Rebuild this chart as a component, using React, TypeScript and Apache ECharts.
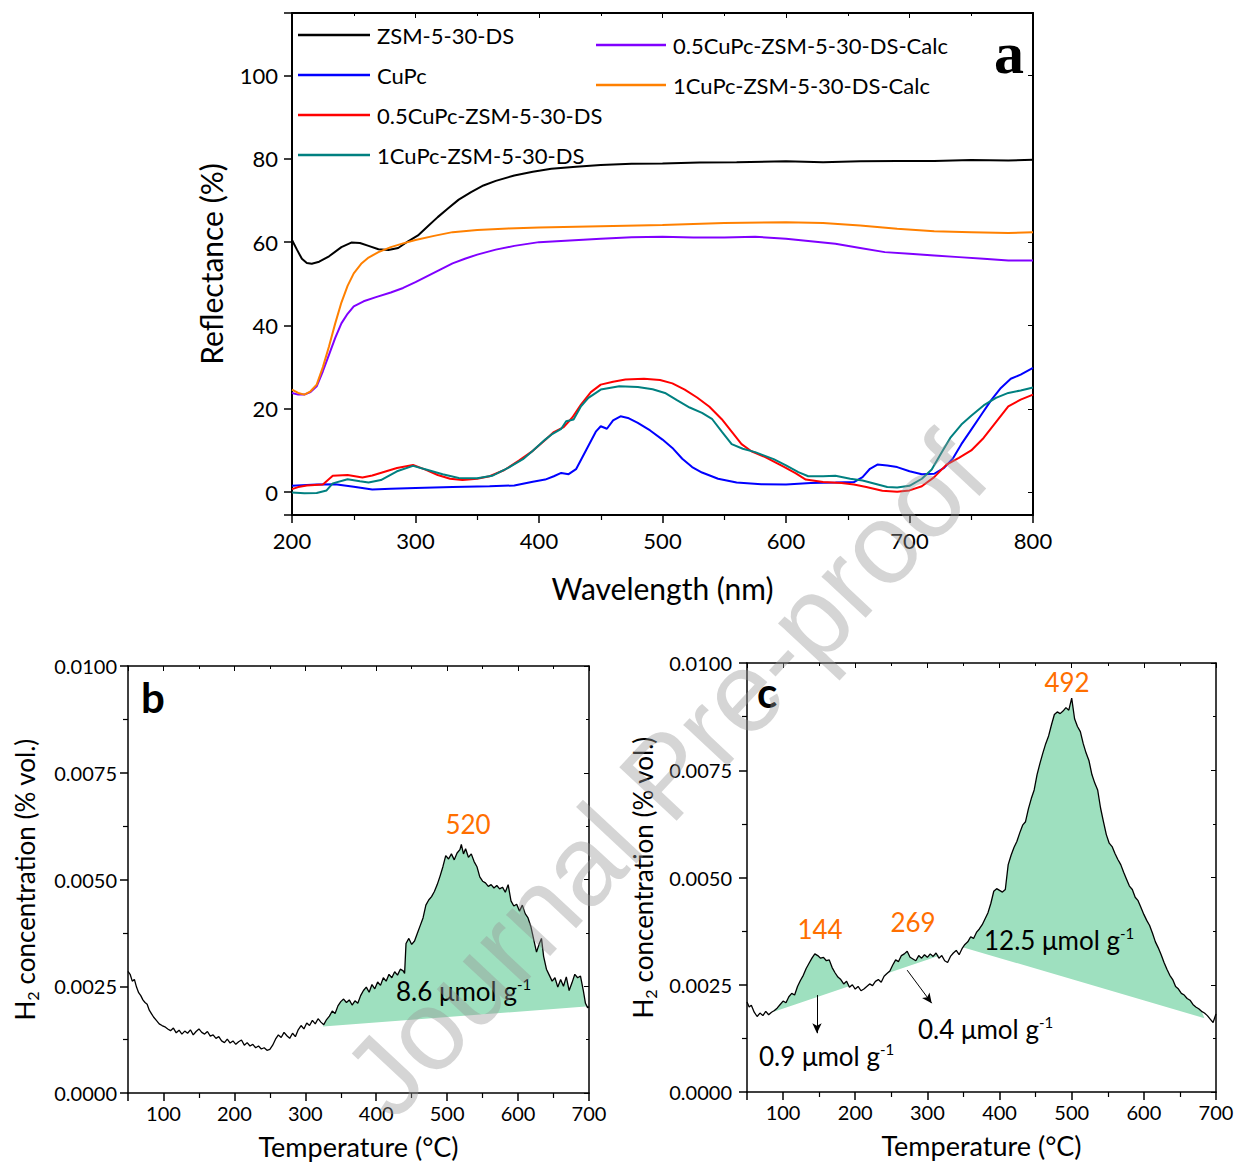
import React, { useEffect, useRef } from "react";
import * as echarts from "echarts";

const FONT = "Lato, 'Open Sans', sans-serif";
const GREEN = "#9ee0bf";
const ORANGE = "#ff6f00";

// ---------- Panel a : reflectance (wavelength nm, %) ----------
const seriesNamesA = [
  "ZSM-5-30-DS",
  "CuPc",
  "0.5CuPc-ZSM-5-30-DS",
  "1CuPc-ZSM-5-30-DS",
  "0.5CuPc-ZSM-5-30-DS-Calc",
  "1CuPc-ZSM-5-30-DS-Calc",
];
const seriesColorsA = ["#000000", "#0000ff", "#ff0000", "#008080", "#8000ff", "#ff8000"];

const zsm = [[200,60.5],[204,58.2],[208,56.0],[212,55.0],[216,54.8],[222,55.3],[230,56.6],[240,58.8],[248,59.9],[255,59.8],[262,59.1],[270,58.3],[278,58.1],[286,58.6],[294,60.2],[302,61.6],[310,63.8],[318,66.0],[326,68.0],[335,70.2],[345,72.0],[355,73.6],[365,74.7],[380,76.0],[395,76.9],[410,77.6],[430,78.1],[450,78.5],[475,78.8],[500,78.9],[530,79.1],[560,79.2],[600,79.4],[630,79.2],[660,79.4],[690,79.5],[720,79.5],[750,79.7],[780,79.6],[800,79.8]];
const cupc = [[200,1.5],[220,1.8],[235,1.9],[250,1.3],[265,0.6],[280,0.8],[300,1.0],[330,1.2],[360,1.4],[380,1.6],[395,2.5],[405,3.0],[412,3.8],[418,4.6],[424,4.3],[430,5.5],[438,10],[446,14.5],[450,15.8],[455,15.2],[460,17.2],[466,18.2],[472,17.8],[480,16.6],[490,14.8],[500,12.6],[508,10.6],[516,8.0],[524,6.0],[532,4.7],[545,3.2],[560,2.3],[580,1.9],[600,1.8],[620,2.2],[640,2.3],[655,2.4],[662,3.6],[668,5.6],[674,6.6],[682,6.4],[690,6.0],[700,5.0],[710,4.3],[720,4.4],[728,5.8],[735,8.0],[742,11.5],[750,15.0],[758,18.5],[766,22.0],[774,25.0],[782,27.2],[790,28.2],[800,29.8]];
const cu05 = [[200,0.7],[205,1.2],[212,1.6],[225,1.8],[233,3.9],[245,4.1],[257,3.5],[265,4.0],[275,4.9],[285,5.8],[298,6.5],[308,5.4],[318,4.1],[328,3.2],[338,2.9],[350,3.2],[360,3.8],[372,5.3],[384,7.6],[395,9.9],[405,12.5],[412,14.4],[420,15.6],[427,17.9],[434,21.0],[442,24.0],[450,25.8],[460,26.5],[470,27.0],[485,27.2],[498,26.9],[508,26.1],[518,24.6],[528,22.7],[538,20.5],[548,17.5],[556,14.5],[564,11.5],[572,9.8],[584,8.3],[598,6.1],[608,4.5],[616,3.0],[630,2.4],[645,2.2],[655,1.8],[665,1.2],[678,0.3],[690,0.1],[700,0.4],[710,1.4],[720,3.6],[730,6.6],[740,8.2],[750,10.0],[760,13.0],[770,16.8],[780,20.6],[790,22.2],[800,23.4]];
const cu1 = [[200,-0.1],[210,-0.3],[220,-0.2],[228,0.4],[233,2.1],[245,3.1],[255,2.6],[262,2.3],[272,2.9],[285,5.0],[298,6.3],[310,5.3],[322,4.3],[335,3.4],[350,3.3],[362,3.9],[375,5.8],[387,7.9],[395,9.9],[405,12.6],[411,14.0],[418,15.2],[422,17.0],[428,17.4],[434,20.6],[440,22.6],[450,24.6],[465,25.4],[480,25.2],[492,24.7],[502,23.8],[512,22.0],[522,20.3],[532,19.0],[540,17.6],[548,14.5],[556,11.5],[565,10.4],[575,9.6],[590,7.9],[600,6.4],[610,4.8],[618,3.8],[630,3.8],[640,3.9],[652,3.2],[662,2.8],[672,2.0],[682,1.2],[690,1.1],[700,1.5],[710,3.2],[718,5.4],[726,9.5],[733,13.0],[742,16.2],[750,18.3],[760,20.8],[770,22.6],[780,23.8],[790,24.4],[800,25.1]];
const cu05Calc = [[200,23.8],[205,23.4],[210,23.4],[215,24.0],[220,25.4],[225,29.0],[230,33.0],[235,37.0],[240,40.5],[245,42.8],[250,44.6],[258,45.8],[268,46.8],[280,47.9],[290,49.0],[300,50.4],[310,51.9],[320,53.4],[330,54.9],[340,56.0],[350,57.0],[365,58.2],[380,59.1],[400,60.0],[425,60.4],[450,60.8],[475,61.2],[500,61.3],[525,61.1],[550,61.1],[575,61.3],[600,60.8],[620,60.2],[640,59.6],[660,58.6],[680,57.6],[700,57.2],[720,56.8],[740,56.4],[760,56.0],[780,55.6],[800,55.6]];
const cu1Calc = [[200,24.6],[205,23.8],[210,23.4],[215,24.2],[220,25.8],[225,30],[230,35],[235,40.5],[240,45.5],[245,49.5],[250,52.5],[256,54.8],[262,56.3],[270,57.6],[280,58.8],[290,59.7],[300,60.5],[315,61.5],[330,62.4],[350,62.9],[375,63.3],[400,63.5],[450,63.8],[500,64.1],[550,64.6],[600,64.8],[630,64.6],[660,64.0],[690,63.2],[720,62.6],[750,62.4],[780,62.2],[800,62.4]];
const seriesDataA = [zsm, cupc, cu05, cu1, cu05Calc, cu1Calc];

// ---------- Panel b : H2-TPR (°C, ×1e-3 % vol.) ----------
const tprB = [[50,2.85],[53,2.78],[56,2.62],[59,2.66],[62,2.48],[65,2.35],[68,2.28],[71,2.18],[74,2.12],[77,2.08],[80,1.94],[83,1.86],[86,1.78],[90,1.70],[94,1.62],[98,1.58],[102,1.55],[106,1.50],[110,1.46],[114,1.52],[118,1.41],[122,1.47],[126,1.38],[130,1.45],[134,1.40],[138,1.48],[142,1.36],[146,1.44],[150,1.50],[154,1.42],[158,1.38],[162,1.44],[166,1.33],[170,1.36],[174,1.28],[178,1.32],[182,1.22],[186,1.18],[190,1.26],[194,1.17],[198,1.22],[202,1.14],[206,1.20],[210,1.24],[214,1.12],[218,1.18],[222,1.10],[226,1.14],[230,1.06],[234,1.10],[238,1.03],[242,1.06],[246,1.00],[250,1.02],[254,1.12],[258,1.26],[262,1.36],[266,1.30],[270,1.42],[274,1.34],[278,1.28],[282,1.40],[286,1.32],[290,1.48],[294,1.58],[298,1.50],[302,1.64],[306,1.58],[310,1.70],[314,1.62],[318,1.74],[322,1.66],[326,1.60],[330,1.72],[334,1.80],[338,1.92],[342,1.86],[346,2.04],[350,2.14],[354,2.20],[358,2.12],[362,2.18],[366,2.06],[370,2.16],[374,2.10],[378,2.28],[382,2.40],[386,2.48],[390,2.36],[394,2.54],[398,2.44],[402,2.60],[406,2.52],[410,2.70],[414,2.62],[418,2.78],[422,2.70],[426,2.84],[430,2.76],[434,2.90],[438,2.86],[440,2.80],[442,3.50],[446,3.62],[450,3.48],[454,3.56],[458,3.74],[462,3.92],[466,4.10],[470,4.40],[474,4.52],[478,4.60],[482,4.72],[486,4.88],[490,5.08],[494,5.30],[498,5.56],[502,5.48],[506,5.60],[510,5.46],[514,5.62],[518,5.70],[520,5.82],[523,5.60],[526,5.72],[530,5.52],[534,5.60],[538,5.42],[542,5.30],[546,5.06],[550,4.96],[554,4.92],[558,4.84],[562,4.88],[566,4.80],[570,4.86],[574,4.78],[578,4.82],[582,4.70],[586,4.88],[590,4.50],[594,4.38],[598,4.42],[602,4.26],[606,4.40],[610,4.20],[614,4.10],[618,3.90],[622,3.60],[626,3.30],[630,3.50],[633,3.62],[636,3.20],[640,2.90],[644,2.76],[648,2.62],[652,2.70],[656,2.48],[660,2.66],[664,2.50],[668,2.72],[672,2.40],[676,2.58],[680,2.78],[684,2.70],[688,2.74],[692,2.40],[695,2.10],[698,2.00],[700,2.02]];
const baseB = [[325,1.56],[700,2.03]];

// ---------- Panel c : H2-TPR (°C, ×1e-3 % vol.) ----------
const tprC = [[50,2.10],[53,1.98],[56,2.02],[60,1.86],[64,1.76],[68,1.84],[72,1.78],[76,1.88],[80,1.80],[84,1.86],[88,1.90],[92,1.96],[96,2.04],[100,2.12],[104,2.08],[108,2.22],[112,2.30],[116,2.26],[120,2.46],[124,2.60],[128,2.72],[132,2.88],[136,3.00],[140,3.12],[144,3.22],[148,3.18],[152,3.12],[156,3.14],[160,3.06],[164,3.08],[168,2.90],[172,2.78],[176,2.68],[180,2.62],[184,2.52],[188,2.58],[192,2.44],[196,2.50],[200,2.40],[204,2.46],[208,2.36],[212,2.40],[216,2.46],[220,2.52],[224,2.48],[228,2.58],[232,2.62],[236,2.56],[240,2.70],[244,2.76],[248,2.82],[252,2.96],[256,3.08],[260,3.04],[264,3.18],[268,3.22],[272,3.28],[276,3.14],[280,3.10],[284,3.06],[288,3.18],[292,3.12],[296,3.20],[300,3.14],[304,3.22],[308,3.16],[312,3.24],[316,3.12],[320,3.18],[324,3.06],[328,3.02],[332,3.16],[336,3.24],[340,3.30],[344,3.20],[348,3.34],[352,3.44],[356,3.50],[360,3.62],[364,3.58],[368,3.72],[372,3.80],[376,3.90],[380,4.04],[384,4.18],[388,4.40],[392,4.68],[396,4.74],[400,4.70],[404,4.66],[408,4.72],[412,5.30],[416,5.52],[420,5.70],[424,5.84],[428,6.04],[432,6.22],[436,6.30],[440,6.60],[444,6.84],[448,7.04],[452,7.40],[456,7.66],[460,7.90],[464,8.12],[468,8.30],[472,8.56],[476,8.80],[480,8.86],[484,8.82],[488,8.88],[492,8.96],[496,8.90],[500,9.18],[504,8.70],[508,8.52],[512,8.40],[516,8.12],[520,7.90],[524,7.72],[528,7.40],[532,7.20],[536,7.04],[540,6.62],[544,6.30],[548,6.00],[552,5.80],[556,5.72],[560,5.56],[564,5.42],[568,5.30],[572,5.12],[576,4.96],[580,4.80],[584,4.72],[588,4.54],[592,4.46],[596,4.30],[600,4.14],[604,4.00],[608,3.88],[612,3.70],[616,3.50],[620,3.36],[624,3.20],[628,3.02],[632,2.86],[636,2.72],[640,2.62],[644,2.46],[648,2.40],[652,2.30],[656,2.26],[660,2.18],[664,2.14],[668,2.04],[672,1.98],[676,1.94],[680,1.88],[684,1.84],[688,1.78],[692,1.70],[696,1.62],[700,1.82]];
const baseC1 = [[87,1.87],[350,3.37]];
const baseC2 = [[350,3.37],[684,1.72]];
const arrowsC = [[[147,2.26],[147,1.37]],[[272,2.84],[306,2.07]]];

const SCALE = 0.001;
const toUnits = (arr: number[][]) => arr.map((p) => [p[0], p[1] * SCALE]);

function fillPolygon(curve: number[][], base: number[][]) {
  const [x0, y0] = base[0];
  const [x1, y1] = base[1];
  const bl = (x: number) => y0 + ((y1 - y0) * (x - x0)) / (x1 - x0);
  const top = curve
    .filter((p) => p[0] > x0 && p[0] < x1)
    .map((p) => [p[0], Math.max(p[1], bl(p[0]))]);
  return toUnits([[x0, y0], ...top, [x1, y1]]);
}

function fillSeries(poly: number[][], xi: number, yi: number) {
  return {
    type: "custom",
    xAxisIndex: xi,
    yAxisIndex: yi,
    silent: true,
    z: 1,
    data: poly,
    encode: { x: 0, y: 1 },
    renderItem: (params: any, api: any) => {
      if (params.dataIndex !== 0) return null;
      const pts = poly.map((p) => api.coord(p));
      return { type: "polygon", shape: { points: pts }, style: { fill: GREEN } };
    },
  };
}

const tickStyle = { color: "#000", width: 1.5 };

function bottomX(grid: number, min: number, max: number, opts: any) {
  return {
    type: "value",
    gridIndex: grid,
    min,
    max,
    position: "bottom",
    name: opts.name,
    nameLocation: "middle",
    nameGap: opts.nameGap,
    nameTextStyle: { fontFamily: FONT, fontSize: opts.nameSize, color: "#000" },
    axisLine: { show: true, onZero: false, lineStyle: { color: "#000", width: opts.lw } },
    axisTick: { show: true, inside: false, length: 8, lineStyle: tickStyle },
    minorTick: { show: true, splitNumber: 2, length: 5, lineStyle: { color: "#000", width: 1.2 } },
    axisLabel: {
      margin: opts.margin,
      fontFamily: FONT,
      fontSize: opts.labelSize,
      color: "#000",
      formatter: (v: number) => (v % 100 === 0 ? String(v) : ""),
    },
    splitLine: { show: false },
    minorSplitLine: { show: false },
  };
}
function topX(grid: number, min: number, max: number, lw: number) {
  return {
    type: "value",
    gridIndex: grid,
    min,
    max,
    position: "top",
    axisLine: { show: true, onZero: false, lineStyle: { color: "#000", width: lw } },
    axisTick: { show: true, inside: true, length: 5, lineStyle: { color: "#000", width: 1 } },
    minorTick: { show: true, splitNumber: 2, length: 3, lineStyle: { color: "#000", width: 1 } },
    axisLabel: { show: false },
    splitLine: { show: false },
  };
}
function leftY(grid: number, min: number, max: number, opts: any) {
  return {
    type: "value",
    gridIndex: grid,
    min,
    max,
    interval: opts.interval,
    position: "left",
    name: opts.name,
    nameLocation: "middle",
    nameGap: opts.nameGap,
    nameTextStyle: opts.nameTextStyle,
    axisLine: { show: true, onZero: false, lineStyle: { color: "#000", width: opts.lw } },
    axisTick: { show: true, inside: false, length: 8, lineStyle: tickStyle },
    minorTick: { show: opts.minor, splitNumber: 2, length: 5, lineStyle: { color: "#000", width: 1.2 } },
    axisLabel: {
      margin: opts.margin,
      fontFamily: FONT,
      fontSize: opts.labelSize,
      color: "#000",
      formatter: opts.formatter,
    },
    splitLine: { show: false },
    minorSplitLine: { show: false },
  };
}
function rightY(grid: number, min: number, max: number, lw: number, interval?: number, minor?: boolean) {
  return {
    type: "value",
    gridIndex: grid,
    min,
    max,
    interval,
    position: "right",
    axisLine: { show: true, onZero: false, lineStyle: { color: "#000", width: lw } },
    axisTick: { show: true, inside: true, length: 5, lineStyle: { color: "#000", width: 1 } },
    minorTick: { show: !!minor, splitNumber: 2, length: 3, lineStyle: { color: "#000", width: 1 } },
    axisLabel: { show: false },
    splitLine: { show: false },
  };
}

const supRich = {
  t: { fontFamily: FONT, fontSize: 26, color: "#000", lineHeight: 30 },
  sup: { fontFamily: FONT, fontSize: 15, color: "#000", lineHeight: 14, verticalAlign: "top" },
};
const h2Name = "{n|H}{s|2}{n| concentration (% vol.)}";
const h2NameStyle = {
  rich: {
    n: { fontFamily: FONT, fontSize: 26, color: "#000", lineHeight: 30 },
    s: { fontFamily: FONT, fontSize: 16, color: "#000", lineHeight: 14, verticalAlign: "bottom" },
  },
};

function textEl(x: number, y: number, text: string, style: any) {
  return {
    type: "text",
    x,
    y,
    silent: true,
    z: 50,
    style: { text, fontFamily: FONT, fill: "#000", align: "left", verticalAlign: "middle", ...style },
  };
}

const legendText = { fontFamily: FONT, fontSize: 22, color: "#000", lineHeight: 22, padding: [0, 0, 0, 2] };

function buildOption() {
  const lineA = seriesNamesA.map((name, i) => ({
    type: "line",
    name,
    data: seriesDataA[i],
    xAxisIndex: 0,
    yAxisIndex: 0,
    showSymbol: false,
    symbol: "none",
    color: seriesColorsA[i],
    lineStyle: { color: seriesColorsA[i], width: 2 },
    z: 3,
  }));

  const tprStyle = { color: "#000", width: 1.3 };

  return {
    animation: false,
    backgroundColor: "#fff",
    grid: [
      { left: 292, top: 13, width: 741, height: 502, show: false },
      { left: 128, top: 666, width: 461, height: 427, show: false },
      { left: 747, top: 663, width: 469, height: 429, show: false },
    ],
    legend: [
      {
        data: seriesNamesA.slice(0, 4),
        orient: "vertical",
        left: 298,
        top: 24,
        padding: 0,
        itemWidth: 72,
        itemHeight: 2.5,
        itemGap: 18,
        icon: "rect",
        selectedMode: false,
        textStyle: legendText,
      },
      {
        data: seriesNamesA.slice(4),
        orient: "vertical",
        left: 596,
        top: 34,
        padding: 0,
        itemWidth: 70,
        itemHeight: 2.5,
        itemGap: 18,
        icon: "rect",
        selectedMode: false,
        textStyle: legendText,
      },
    ],
    xAxis: [
      bottomX(0, 200, 800, { name: "Wavelength (nm)", nameGap: 58, nameSize: 30, lw: 2, margin: 14, labelSize: 22 }),
      topX(0, 200, 800, 2),
      bottomX(1, 50, 700, { name: "Temperature (°C)", nameGap: 40, nameSize: 27, lw: 1.5, margin: 10, labelSize: 20 }),
      topX(1, 50, 700, 1.5),
      bottomX(2, 50, 700, { name: "Temperature (°C)", nameGap: 40, nameSize: 27, lw: 1.5, margin: 10, labelSize: 20 }),
      topX(2, 50, 700, 1.5),
    ],
    yAxis: [
      leftY(0, -5.5, 115, {
        name: "Reflectance (%)",
        nameGap: 66,
        nameTextStyle: { fontFamily: FONT, fontSize: 30, color: "#000" },
        lw: 2,
        minor: false,
        margin: 14,
        labelSize: 22,
        formatter: (v: number) => (Math.abs(v % 20) < 1e-9 && v >= 0 && v <= 100 ? String(v) : ""),
      }),
      rightY(0, -5.5, 115, 2),
      leftY(1, 0, 0.01, {
        interval: 0.0025,
        name: h2Name,
        nameGap: 88,
        nameTextStyle: h2NameStyle,
        lw: 1.5,
        minor: true,
        margin: 11,
        labelSize: 20,
        formatter: (v: number) => v.toFixed(4),
      }),
      rightY(1, 0, 0.01, 1.5, 0.0025, true),
      leftY(2, 0, 0.01, {
        interval: 0.0025,
        name: h2Name,
        nameGap: 89,
        nameTextStyle: h2NameStyle,
        lw: 1.5,
        minor: true,
        margin: 15,
        labelSize: 20,
        formatter: (v: number) => v.toFixed(4),
      }),
      rightY(2, 0, 0.01, 1.5, 0.0025, true),
    ],
    series: [
      ...lineA,
      fillSeries(fillPolygon(tprB, baseB), 2, 2),
      {
        type: "line",
        name: "TPR b",
        data: toUnits(tprB),
        xAxisIndex: 2,
        yAxisIndex: 2,
        showSymbol: false,
        symbol: "none",
        color: "#000",
        lineStyle: tprStyle,
        z: 3,
      },
      fillSeries(fillPolygon(tprC, baseC1), 4, 4),
      fillSeries(fillPolygon(tprC, baseC2), 4, 4),
      {
        type: "line",
        name: "TPR c",
        data: toUnits(tprC),
        xAxisIndex: 4,
        yAxisIndex: 4,
        showSymbol: false,
        symbol: "none",
        color: "#000",
        lineStyle: tprStyle,
        z: 3,
        markLine: {
          silent: true,
          symbol: ["none", "arrow"],
          symbolSize: [7, 10],
          lineStyle: { color: "#000", width: 1, type: "solid" },
          label: { show: false },
          data: arrowsC.map((a) => [{ coord: [a[0][0], a[0][1] * SCALE] }, { coord: [a[1][0], a[1][1] * SCALE] }]),
        },
      },
    ],
    graphic: [
      textEl(1009, 53, "a", {
        fontFamily: "'Liberation Serif', serif",
        fontWeight: "bold",
        fontSize: 60,
        align: "center",
      }),
      textEl(153, 697, "b", { fontWeight: "bold", fontSize: 42, align: "center" }),
      textEl(767, 692, "c", { fontWeight: "bold", fontSize: 42, align: "center" }),
      textEl(468, 824, "520", { fill: ORANGE, fontSize: 26, align: "center" }),
      textEl(396, 991, "{t|8.6 μmol g}{sup|-1}", { rich: supRich }),
      textEl(820, 929, "144", { fill: ORANGE, fontSize: 26, align: "center" }),
      textEl(913, 922, "269", { fill: ORANGE, fontSize: 26, align: "center" }),
      textEl(1067, 682, "492", { fill: ORANGE, fontSize: 26, align: "center" }),
      textEl(984, 940, "{t|12.5 μmol g}{sup|-1}", { rich: supRich }),
      textEl(759, 1056, "{t|0.9 μmol g}{sup|-1}", { rich: supRich }),
      textEl(918, 1029, "{t|0.4 μmol g}{sup|-1}", { rich: supRich }),
      {
        type: "text",
        x: 665,
        y: 775,
        rotation: (47 * Math.PI) / 180,
        silent: true,
        z: 100,
        style: {
          text: "Journal Pre-proof",
          fontFamily: "'Liberation Sans', sans-serif",
          fontSize: 114,
          fill: "rgba(150,150,150,0.4)",
          align: "center",
          verticalAlign: "middle",
        },
      },
    ],
  };
}

export default function App() {
  const ref = useRef<HTMLDivElement>(null);
  useEffect(() => {
    if (!ref.current) return;
    const chart = echarts.init(ref.current, undefined, { renderer: "svg" });
    chart.setOption(buildOption() as any);
    return () => chart.dispose();
  }, []);
  return (
    <div
      ref={ref}
      style={{ position: "absolute", left: 0, top: 0, width: 1237, height: 1166, background: "#fff" }}
    />
  );
}
